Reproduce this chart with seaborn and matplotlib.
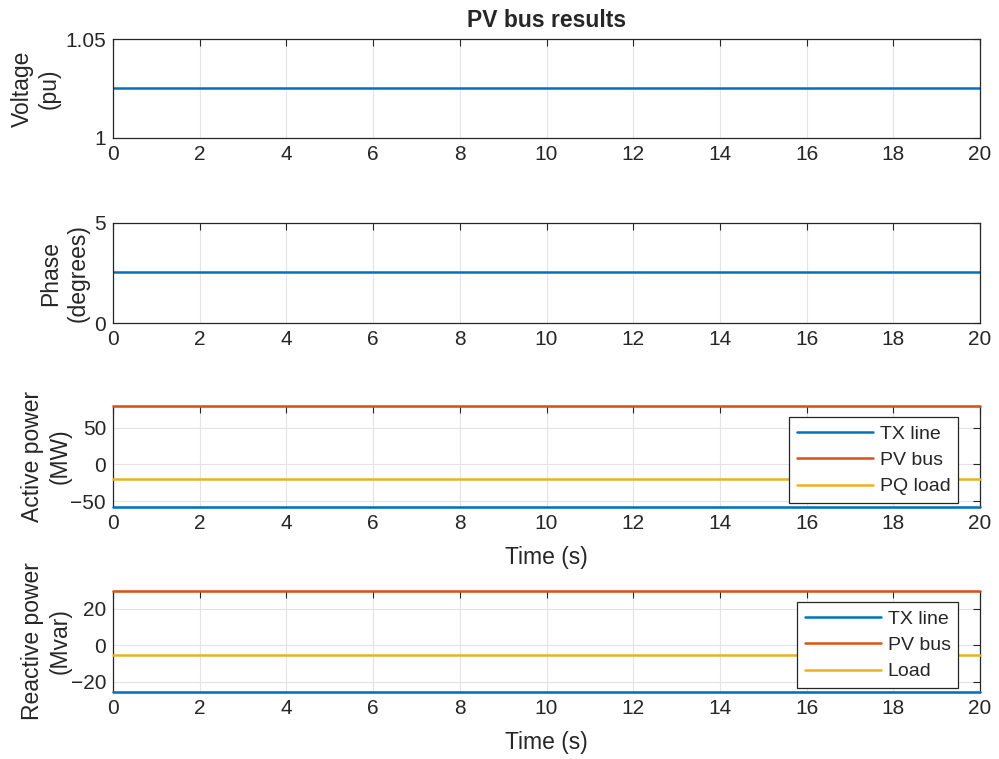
#PV bus results - four stacked panels in MATLAB style
import matplotlib
matplotlib.use('Agg')
import pandas as pd
import matplotlib.pyplot as plt
import seaborn as sns

# data
time_s = [0, 20]
voltage_pu = [1.025, 1.025]
phase_deg = [2.55, 2.55]
p_tx_line = [-58.5, -58.5]
p_pv_bus = [80.0, 80.0]
p_pq_load = [-20.0, -20.0]
q_tx_line = [-25.8, -25.8]
q_pv_bus = [30.0, 30.0]
q_load = [-5.4, -5.4]
x_ticks = list(range(0, 21, 2))

blue, orange, yellow = '#0072BD', '#D95319', '#EDB120'
dark = '#262626'

sns.set_theme(style='white')
plt.rcParams['font.family'] = ['Liberation Sans', 'DejaVu Sans']
plt.rcParams['axes.edgecolor'] = dark
plt.rcParams['axes.linewidth'] = 0.9
plt.rcParams['xtick.color'] = dark
plt.rcParams['ytick.color'] = dark
plt.rcParams['text.color'] = dark
plt.rcParams['axes.labelcolor'] = dark

fig = plt.figure(figsize=(9.99, 7.59), dpi=100)
left, width = 0.1131, 0.8679
boxes = [(0.8182, 0.1304), (0.5744, 0.1318), (0.3316, 0.1339), (0.0879, 0.1339)]
axes = [fig.add_axes([left, b, width, h]) for b, h in boxes]

def style(ax):
    ax.set_xlim(0, 20)
    ax.set_xticks(x_ticks)
    ax.tick_params(direction='in', top=True, right=True, length=5, width=0.8,
                   labelsize=15, pad=5)
    ax.grid(True, color='#e3e3e3', linewidth=0.8)
    ax.set_axisbelow(True)

lw = 1.8

# voltage
ax = axes[0]
sns.lineplot(x=time_s, y=voltage_pu, ax=ax, color=blue, linewidth=lw)
style(ax)
ax.set_ylim(1, 1.05)
ax.set_yticks([1, 1.05])
ax.set_yticklabels(['1', '1.05'])
ax.set_ylabel('Voltage\n(pu)', fontsize=16.5, va='center', linespacing=1.25)
ax.yaxis.set_label_coords(-0.089, 0.5)
ax.set_title('PV bus results', fontsize=16.5, fontweight='bold', pad=9)

# phase
ax = axes[1]
sns.lineplot(x=time_s, y=phase_deg, ax=ax, color=blue, linewidth=lw)
style(ax)
ax.set_ylim(0, 5)
ax.set_yticks([0, 5])
ax.set_ylabel('Phase\n(degrees)', fontsize=16.5, va='center', linespacing=1.25)
ax.yaxis.set_label_coords(-0.056, 0.5)

def power_panel(ax, series, labels, ylabel, yticks):
    for vals, lab, col in zip(series, labels, [blue, orange, yellow]):
        sns.lineplot(x=time_s, y=vals, ax=ax, color=col, linewidth=lw,
                     label=lab, clip_on=False, zorder=3)
    style(ax)
    allv = [v for s in series for v in s]
    ax.set_ylim(min(allv), max(allv))
    ax.set_yticks(yticks)
    ax.set_xlabel('Time (s)', fontsize=16.5, labelpad=9)
    ax.set_ylabel(ylabel, fontsize=16.5, va='center', linespacing=1.25)
    ax.yaxis.set_label_coords(-0.077, 0.5)
    leg = ax.legend(loc='lower right', bbox_to_anchor=(0.975, 0.04),
                    borderaxespad=0, fontsize=14, handlelength=3.9,
                    handletextpad=0.35, labelspacing=0.45, fancybox=False,
                    framealpha=1, edgecolor=dark, borderpad=0.4)
    leg.get_frame().set_linewidth(0.9)
    for t in leg.get_texts():
        t.set_color(dark)

power_panel(axes[2], [p_tx_line, p_pv_bus, p_pq_load],
            ['TX line', 'PV bus', 'PQ load'], 'Active power\n(MW)', [-50, 0, 50])
power_panel(axes[3], [q_tx_line, q_pv_bus, q_load],
            ['TX line', 'PV bus', 'Load'], 'Reactive power\n(Mvar)', [-20, 0, 20])

fig.savefig('out.png', dpi=100)
